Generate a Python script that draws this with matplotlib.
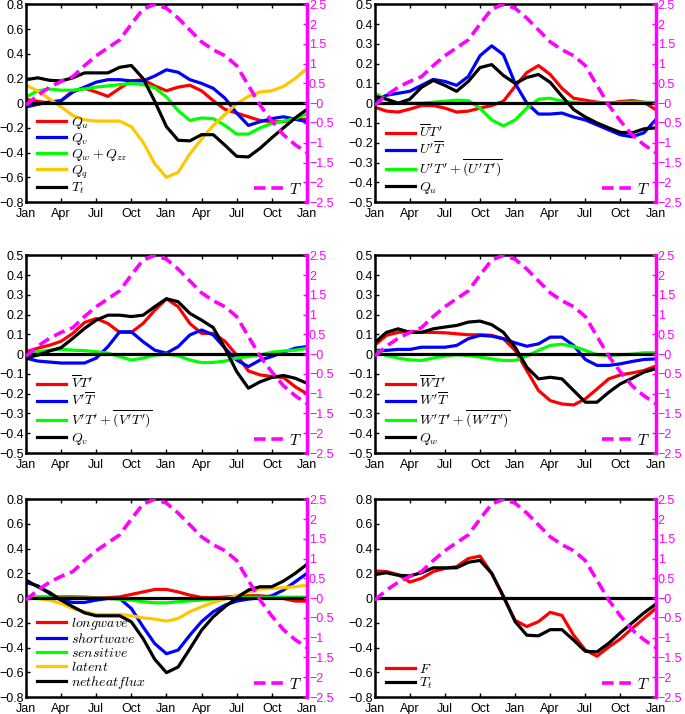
import numpy as np
import matplotlib
matplotlib.use('Agg')
import matplotlib.pyplot as plt

plt.rcParams['font.family'] = ['Liberation Sans', 'DejaVu Sans']
plt.rcParams['mathtext.fontset'] = 'cm'
plt.rcParams['axes.unicode_minus'] = True

months = np.arange(25)
month_ticks = [0, 3, 6, 9, 12, 15, 18, 21, 24]
month_labels = ['Jan', 'Apr', 'Jul', 'Oct', 'Jan', 'Apr', 'Jul', 'Oct', 'Jan']
T_ticks = [-2.5, -2, -1.5, -1, -0.5, 0, 0.5, 1, 1.5, 2, 2.5]
T_labels = ['\u22122.5', '\u22122', '\u22121.5', '\u22121', '\u22120.5', '\u22120', '0.5', '1', '1.5', '2', '2.5']

# temperature anomaly (right axis, magenta dashed)
T = [-0.05, 0.2, 0.4, 0.55, 0.67, 0.95, 1.2, 1.4, 1.6, 2.0, 2.38, 2.5, 2.4, 2.15, 1.85,
     1.55, 1.35, 1.2, 0.95, 0.45, -0.05, -0.45, -0.8, -1.05, -1.25]

# panel 1
Qu = [0.03, 0.015, 0.0, 0.02, 0.1, 0.12, 0.09, 0.055, 0.12, 0.18, 0.19, 0.14, 0.1, 0.13,
      0.145, 0.1, 0.02, -0.05, -0.08, -0.11, -0.14, -0.15, -0.15, -0.13, -0.13]
Qv = [-0.03, -0.01, 0.01, 0.02, 0.09, 0.13, 0.17, 0.19, 0.19, 0.18, 0.18, 0.22, 0.27, 0.25,
      0.19, 0.16, 0.12, 0.04, -0.08, -0.18, -0.15, -0.125, -0.11, -0.13, -0.15]
Qwzz = [0.05, 0.1, 0.115, 0.105, 0.105, 0.115, 0.13, 0.14, 0.15, 0.16, 0.15, 0.125, 0.05,
        -0.06, -0.14, -0.12, -0.125, -0.18, -0.25, -0.25, -0.2, -0.165, -0.145, -0.125, -0.085]
Qq = [0.145, 0.1, 0.035, -0.03, -0.1, -0.135, -0.145, -0.145, -0.145, -0.19, -0.315, -0.49,
      -0.6, -0.56, -0.41, -0.29, -0.18, -0.09, -0.005, 0.055, 0.09, 0.1, 0.135, 0.2, 0.28]
Tt = [0.19, 0.205, 0.185, 0.18, 0.205, 0.245, 0.245, 0.245, 0.29, 0.305, 0.2, 0.015, -0.19,
      -0.3, -0.305, -0.255, -0.255, -0.34, -0.43, -0.435, -0.365, -0.28, -0.2, -0.12, -0.05]

# panel 2
UbTp = [-0.02, -0.04, -0.045, -0.03, -0.012, -0.012, -0.025, -0.045, -0.04, -0.025, -0.012,
        0.01, 0.085, 0.155, 0.19, 0.145, 0.075, 0.025, 0.015, 0.005, 0.0, 0.008, 0.013, 0.005, -0.032]
UpTb = [0.01, 0.04, 0.05, 0.06, 0.09, 0.12, 0.11, 0.09, 0.135, 0.24, 0.29, 0.245, 0.1, 0.0,
        -0.055, -0.055, -0.05, -0.07, -0.085, -0.11, -0.135, -0.16, -0.17, -0.15, -0.085]
UpTp = [0.05, 0.02, 0.0, 0.0, 0.0, 0.005, 0.01, 0.015, 0.013, -0.025, -0.085, -0.115, -0.085,
        -0.025, 0.02, 0.025, 0.01, 0.005, 0.0, 0.0, 0.002, 0.003, 0.005, 0.005, 0.003]
Qu2 = [0.035, 0.02, 0.0, 0.02, 0.08, 0.115, 0.09, 0.06, 0.11, 0.18, 0.195, 0.14, 0.1, 0.13,
       0.145, 0.105, 0.035, -0.032, -0.07, -0.1, -0.125, -0.148, -0.15, -0.13, -0.125]

# panel 3
VbTp = [0.012, 0.03, 0.045, 0.065, 0.105, 0.16, 0.18, 0.155, 0.11, 0.11, 0.155, 0.222, 0.28,
        0.24, 0.155, 0.105, 0.105, 0.065, -0.005, -0.085, -0.105, -0.113, -0.118, -0.165, -0.2]
VpTb = [-0.02, -0.035, -0.04, -0.045, -0.045, -0.045, -0.02, 0.038, 0.113, 0.113, 0.063, 0.02,
        0.005, 0.038, 0.097, 0.122, 0.097, 0.03, -0.03, -0.063, -0.03, -0.012, 0.01, 0.03, 0.038]
VpTp = [-0.005, 0.012, 0.02, 0.025, 0.02, 0.018, 0.012, 0.005, -0.012, -0.03, -0.02, -0.005,
        0.0, -0.008, -0.03, -0.043, -0.042, -0.035, -0.02, -0.012, -0.005, 0.01, 0.016, 0.02, 0.03]
Qv3 = [-0.018, -0.005, 0.016, 0.033, 0.08, 0.13, 0.172, 0.197, 0.197, 0.19, 0.197, 0.24, 0.28,
       0.265, 0.206, 0.172, 0.134, 0.03, -0.088, -0.172, -0.14, -0.118, -0.108, -0.122, -0.147]

# panel 4
WbTp = [0.045, 0.095, 0.11, 0.115, 0.11, 0.11, 0.108, 0.103, 0.098, 0.098, 0.095, 0.078, 0.019,
        -0.083, -0.184, -0.235, -0.252, -0.257, -0.226, -0.176, -0.125, -0.105, -0.095, -0.083, -0.061]
WpTb = [0.019, 0.019, 0.024, 0.024, 0.035, 0.035, 0.035, 0.044, 0.078, 0.095, 0.091, 0.078,
        0.057, 0.04, 0.052, 0.086, 0.086, 0.044, -0.027, -0.057, -0.057, -0.049, -0.037, -0.027, -0.024]
WpTp = [0.019, -0.007, -0.02, -0.029, -0.032, -0.02, -0.01, -0.003, -0.007, -0.015, -0.024,
        -0.032, -0.032, -0.01, 0.019, 0.044, 0.05, 0.039, 0.019, -0.003, -0.007, -0.003, 0.0, 0.007, 0.007]
Qw = [0.057, 0.11, 0.128, 0.11, 0.11, 0.128, 0.137, 0.145, 0.162, 0.167, 0.149, 0.11, 0.035,
      -0.066, -0.125, -0.117, -0.125, -0.184, -0.243, -0.243, -0.193, -0.15, -0.122, -0.091, -0.074]

# panel 5
longwave = [0.01, 0.008, 0.008, 0.01, 0.01, 0.008, 0.003, 0.003, 0.01, 0.03, 0.05, 0.07, 0.07,
            0.05, 0.024, 0.005, 0.003, 0.008, 0.016, 0.019, 0.019, 0.01, -0.003, -0.024, -0.024]
shortwave = [0.127, 0.1, 0.038, -0.016, -0.035, -0.035, -0.016, -0.003, -0.003, -0.084, -0.232,
             -0.368, -0.45, -0.42, -0.3, -0.19, -0.11, -0.057, -0.024, -0.008, 0.003, 0.019, 0.065, 0.132, 0.2]
sensitive = [0.016, 0.01, 0.003, 0.0, 0.0, 0.0, 0.0, -0.003, -0.008, -0.016, -0.03, -0.038, -0.038,
             -0.03, -0.022, -0.016, -0.008, -0.003, 0.003, 0.005, 0.006, 0.007, 0.008, 0.008, 0.008]
latent = [0.01, -0.003, -0.016, -0.043, -0.084, -0.11, -0.132, -0.132, -0.132, -0.143, -0.16, -0.17,
          -0.186, -0.165, -0.11, -0.07, -0.035, -0.008, 0.019, 0.05, 0.073, 0.078, 0.084, 0.092, 0.105]
netheat = [0.146, 0.092, 0.046, -0.016, -0.07, -0.119, -0.143, -0.143, -0.143, -0.192, -0.327,
           -0.495, -0.603, -0.557, -0.41, -0.26, -0.151, -0.07, 0.003, 0.065, 0.092, 0.092, 0.138, 0.2, 0.273]

# panel 6
F = [0.22, 0.215, 0.19, 0.13, 0.16, 0.215, 0.24, 0.255, 0.32, 0.34, 0.2, 0.01, -0.18, -0.23,
     -0.19, -0.115, -0.14, -0.3, -0.42, -0.47, -0.395, -0.33, -0.245, -0.165, -0.085]

RED, BLUE, GREEN, GOLD, BLACK, MAG = 'red', 'blue', (0, 1, 0), (1, 0.78, 0), 'black', (1, 0, 1)

panels = [
    ([0.038, 0.717, 0.41, 0.277], 0.8,
     [(Qu, RED, r'$Q_u$'), (Qv, BLUE, r'$Q_v$'), (Qwzz, GREEN, r'$Q_w+Q_{zz}$'),
      (Qq, GOLD, r'$Q_q$'), (Tt, BLACK, r'$T_t$')]),
    ([0.547, 0.717, 0.41, 0.277], 0.5,
     [(UbTp, RED, r"$\overline{U}T'$"), (UpTb, BLUE, r"$U'\overline{T}$"),
      (UpTp, GREEN, r"$U'T'+\overline{(U'T')}$"), (Qu2, BLACK, r'$Q_u$')]),
    ([0.038, 0.3655, 0.41, 0.277], 0.5,
     [(VbTp, RED, r"$\overline{V}T'$"), (VpTb, BLUE, r"$V'\overline{T}$"),
      (VpTp, GREEN, r"$V'T'+\overline{(V'T')}$"), (Qv3, BLACK, r'$Q_v$')]),
    ([0.547, 0.3655, 0.41, 0.277], 0.5,
     [(WbTp, RED, r"$\overline{W}T'$"), (WpTb, BLUE, r"$W'\overline{T}$"),
      (WpTp, GREEN, r"$W'T'+\overline{(W'T')}$"), (Qw, BLACK, r'$Q_w$')]),
    ([0.038, 0.0238, 0.41, 0.277], 0.8,
     [(longwave, RED, r'$longwave$'), (shortwave, BLUE, r'$shortwave$'),
      (sensitive, GREEN, r'$sensitive$'), (latent, GOLD, r'$latent$'),
      (netheat, BLACK, r'$netheatflux$')]),
    ([0.547, 0.0238, 0.41, 0.277], 0.8,
     [(F, RED, r'$F$'), (Tt, BLACK, r'$T_t$')]),
]

fig = plt.figure(figsize=(6.85, 7.14), dpi=100)

for rect, ylim, series in panels:
    ax = fig.add_axes(rect)
    for vals, col, lab in series:
        ax.plot(months, vals, color=col, lw=2.3, label=lab)
    ax.axhline(0, color='black', lw=2.3)
    ax.set_xlim(0, 24)
    ax.set_ylim(-ylim, ylim)
    ax.set_xticks(month_ticks)
    ax.set_xticklabels(month_labels)
    step = 0.2 if ylim == 0.8 else 0.1
    yt = np.round(np.arange(-ylim, ylim + step / 2, step), 2)
    ax.set_yticks(yt)
    ax.set_yticklabels(['0' if v == 0 else ('%g' % v).replace('-', '\u2212') for v in yt])
    ax.tick_params(axis='both', direction='in', labelsize=9, length=3, width=1,
                   top=True, right=False)
    ax.tick_params(axis='y', pad=1.5)
    ax.tick_params(axis='x', pad=4.5)
    for s in ['left', 'top', 'bottom']:
        ax.spines[s].set_linewidth(1.8)
    ax.spines['right'].set_visible(False)
    ax.legend(loc='lower left', bbox_to_anchor=(0.025, 0.01), frameon=False, fontsize=10,
              handlelength=2.1, handletextpad=0.3, labelspacing=0.0, borderaxespad=0,
              borderpad=0.3)

    ax2 = ax.twinx()
    ax2.plot(months, T, color=MAG, lw=2.6, ls=(0, (3.2, 1.6)), label=r'$T$')
    ax2.set_ylim(-2.5, 2.5)
    ax2.set_yticks(T_ticks)
    ax2.set_yticklabels(T_labels)
    ax2.tick_params(axis='y', direction='in', colors=MAG, labelsize=9, length=3,
                    width=1, pad=1.5)
    ax2.spines['right'].set_color(MAG)
    ax2.spines['right'].set_linewidth(2.5)
    for s in ['left', 'top', 'bottom']:
        ax2.spines[s].set_visible(False)
    ax2.legend(loc='lower right', frameon=False, fontsize=11, handlelength=2.0,
               handletextpad=0.3, borderaxespad=0.05, borderpad=0.3)

plt.savefig('out.png', dpi=100)
